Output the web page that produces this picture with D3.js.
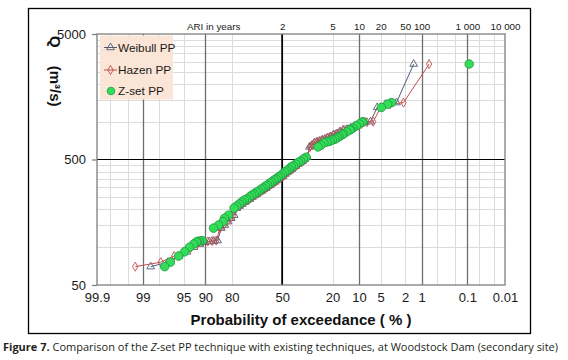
<!DOCTYPE html>
<html><head><meta charset="utf-8">
<script src="https://cdn.jsdelivr.net/npm/d3@7"></script>
<style>
html,body{margin:0;padding:0;background:#fff;}
svg{display:block;font-family:"Liberation Sans",Arial,sans-serif;}
</style></head>
<body>
<svg id="c" width="568" height="360"></svg>
<script>
// ---------- DATA ----------
// Ranked annual peak flows Q (m³/s), largest first
const qValues = [2880,1420,1380,1300,1000,990,960,926,890,870,860,830,800,785,760,745,725,715,700,690,680,650,630,521,505,485,475,460,444,437,418,406,397,383,369,362,350,343,331,324,313,307,296,290,280,275,266,260,251,242,238,229,221,213,205,180,170,160,150,142,113,112,111,110,106,100,92,85,76,70];
// Probability of exceedance (%) for each ranked value
const weibullP = [1.41,2.82,4.23,5.63,7.04,8.45,9.86,11.27,12.68,14.08,15.49,16.90,18.31,19.72,21.13,22.54,23.94,25.35,26.76,28.17,29.58,30.99,32.39,33.80,35.21,36.62,38.03,39.44,40.85,42.25,43.66,45.07,46.48,47.89,49.30,50.70,52.11,53.52,54.93,56.34,57.75,59.15,60.56,61.97,63.38,64.79,66.20,67.61,69.01,70.42,71.83,73.24,74.65,76.06,77.46,78.87,80.28,81.69,83.10,84.51,85.92,87.32,88.73,90.14,91.55,92.96,94.37,95.77,97.18,98.59];
const hazenP = [0.71,2.14,3.57,5.00,6.43,7.86,9.29,10.71,12.14,13.57,15.00,16.43,17.86,19.29,20.71,22.14,23.57,25.00,26.43,27.86,29.29,30.71,32.14,33.57,35.00,36.43,37.86,39.29,40.71,42.14,43.57,45.00,46.43,47.86,49.29,50.71,52.14,53.57,55.00,56.43,57.86,59.29,60.71,62.14,63.57,65.00,66.43,67.86,69.29,70.71,72.14,73.57,75.00,76.43,77.86,79.29,80.71,82.14,83.57,85.00,86.43,87.86,89.29,90.71,92.14,93.57,95.00,96.43,97.86,99.29];
const zsetP = [0.09,3.39,3.91,4.89,8.85,9.08,9.87,10.8,11.9,12.6,12.9,14.1,15.3,15.9,17.1,17.9,18.9,20.1,21.3,22.7,24.3,25.9,27.5,34.5,36.2,37.8,39.4,41.0,42.5,44.0,45.5,47.0,48.4,49.8,51.2,52.6,54.0,55.4,56.8,58.2,59.6,61.0,62.4,63.8,65.2,66.6,68.0,69.4,70.8,72.2,73.6,75.0,76.3,77.6,78.9,81.5,83.2,83.8,85.6,87.4,90.9,91.6,92.1,92.4,93.0,93.9,94.8,95.8,96.9,97.5];
const seriesNames = ["Weibull PP","Hazen PP","Z-set PP"];

// Axis tick labels
const xTickP = [99.9,99,95,90,80,50,20,10,5,2,1,0.1,0.01];
const xTickLabels = ["99.9","99","95","90","80","50","20","10","5","2","1","0.1","0.01"];
const ariP = [50,20,10,5,2,1,0.1,0.01];
const ariLabels = ["2","5","10","20","50","100","1 000","10 000"];
const yTicks = [50,500,5000];
const yTickLabels = ["50","500","5000"];
const gridMinorP = [99.8,99.5,98,95,80,20,5,2,0.5,0.2,0.05,0.02];
const gridMajorP = [99,90,10,1,0.1];
const gridMinorQ = [100,150,200,250,300,350,400,450,1000,1500,2000,2500,3000,3500,4000,4500];

// ---------- helpers ----------
function probit(p){
  const a=[-3.969683028665376e+01,2.209460984245205e+02,-2.759285104469687e+02,1.383577518672690e+02,-3.066479806614716e+01,2.506628277459239e+00];
  const b=[-5.447609879822406e+01,1.615858368580409e+02,-1.556989798598866e+02,6.680131188771972e+01,-1.328068155288572e+01];
  const c=[-7.784894002430293e-03,-3.223964580411365e-01,-2.400758277161838e+00,-2.549732539343734e+00,4.374664141464968e+00,2.938163982698783e+00];
  const d=[7.784695709041462e-03,3.224671290700398e-01,2.445134137142996e+00,3.754408661907416e+00];
  const pl=0.02425, ph=1-pl; let q,r;
  if(p<pl){q=Math.sqrt(-2*Math.log(p));return (((((c[0]*q+c[1])*q+c[2])*q+c[3])*q+c[4])*q+c[5])/((((d[0]*q+d[1])*q+d[2])*q+d[3])*q+1);}
  if(p<=ph){q=p-0.5;r=q*q;return (((((a[0]*r+a[1])*r+a[2])*r+a[3])*r+a[4])*r+a[5])*q/(((((b[0]*r+b[1])*r+b[2])*r+b[3])*r+b[4])*r+1);}
  q=Math.sqrt(-2*Math.log(1-p));return -(((((c[0]*q+c[1])*q+c[2])*q+c[3])*q+c[4])*q+c[5])/((((d[0]*q+d[1])*q+d[2])*q+d[3])*q+1);
}
const zOf = pExc => probit(1 - pExc/100);

// ---------- layout ----------
const svg = d3.select("#c");
const L = 97, R = 505, T = 34, B = 285;
const xz = d3.scaleLinear().domain([zOf(99.9), zOf(0.01)]).range([L, R]);
const xp = p => xz(zOf(p));
const y = d3.scaleLog().domain([50, 5000]).range([B, T]);

// outer frame
svg.append("rect").attr("x",28.5).attr("y",8.5).attr("width",502).attr("height",325)
  .attr("fill","none").attr("stroke","#000").attr("stroke-width",1.3);

// gridlines
const g = svg.append("g");
g.selectAll("line.hm").data(gridMinorQ).join("line")
  .attr("x1",L).attr("x2",R).attr("y1",d=>Math.round(y(d))+0.5).attr("y2",d=>Math.round(y(d))+0.5)
  .attr("stroke","#dcdcdc").attr("stroke-width",1);
g.selectAll("line.vm").data(gridMinorP).join("line")
  .attr("y1",T).attr("y2",B).attr("x1",d=>Math.round(xp(d))+0.5).attr("x2",d=>Math.round(xp(d))+0.5)
  .attr("stroke","#dcdcdc").attr("stroke-width",1);
g.selectAll("line.vM").data(gridMajorP).join("line")
  .attr("y1",T).attr("y2",B).attr("x1",d=>Math.round(xp(d))+0.5).attr("x2",d=>Math.round(xp(d))+0.5)
  .attr("stroke","#6e6e6e").attr("stroke-width",1.3);
// black reference lines at 50 % and 500 m³/s
g.append("line").attr("x1",L).attr("x2",R).attr("y1",y(500)).attr("y2",y(500)).attr("stroke","#000").attr("stroke-width",1.2);
g.append("line").attr("y1",T).attr("y2",B).attr("x1",xp(50)).attr("x2",xp(50)).attr("stroke","#000").attr("stroke-width",1.8);
// plot border
g.append("rect").attr("x",L).attr("y",T).attr("width",R-L).attr("height",B-T)
  .attr("fill","none").attr("stroke","#7f7f7f").attr("stroke-width",1.3);

// ---------- axes ----------
const fmtX = d => xTickLabels[xTickP.findIndex(p => Math.abs(zOf(p)-d) < 1e-9)];
const xAxis = d3.axisBottom(xz).tickValues(xTickP.map(zOf)).tickFormat(fmtX).tickSize(0).tickPadding(0);
const gx = svg.append("g").attr("transform",`translate(0,${B+8})`).call(xAxis);
gx.select(".domain").remove();
gx.selectAll("text").attr("font-size",13).attr("font-family","Liberation Sans, Arial, sans-serif").attr("fill","#1a1a1a").attr("dy","0.71em");

const fmtA = d => ariLabels[ariP.findIndex(p => Math.abs(zOf(p)-d) < 1e-9)];
const aAxis = d3.axisTop(xz).tickValues(ariP.map(zOf)).tickFormat(fmtA).tickSize(0).tickPadding(0);
const ga = svg.append("g").attr("transform",`translate(0,${T-4.5})`).call(aAxis);
ga.select(".domain").remove();
ga.selectAll("text").attr("font-size",9.8).attr("font-family","Liberation Sans, Arial, sans-serif").attr("fill","#1a1a1a").attr("dy","0");
svg.append("text").attr("x",187).attr("y",T-4.5).attr("font-size",9.8).attr("fill","#1a1a1a").text("ARI  in years");

const yAxis = d3.axisLeft(y).tickValues(yTicks).tickFormat((d,i)=>yTickLabels[i]).tickSize(5).tickPadding(6);
const gy = svg.append("g").attr("transform",`translate(${L},0)`).call(yAxis);
gy.select(".domain").remove();
gy.selectAll("line").attr("stroke","#7f7f7f").attr("stroke-width",1.3);
gy.selectAll("text").attr("font-size",13).attr("font-family","Liberation Sans, Arial, sans-serif").attr("fill","#1a1a1a");

// titles
svg.append("text").attr("x",301).attr("y",324.5).attr("text-anchor","middle")
  .attr("font-size",15).attr("font-weight","bold").attr("fill","#111").text("Probability of exceedance ( % )");
const yt = svg.append("text").attr("transform","translate(50,36) rotate(90)")
  .attr("font-size",15).attr("font-weight","bold").attr("fill","#111");
yt.append("tspan").text("Q");
yt.append("tspan").attr("dx",18).text("(m³/s)");

// ---------- series ----------
const wData = qValues.map((q,i)=>({p:weibullP[i], q}));
const hData = qValues.map((q,i)=>({p:hazenP[i], q}));
const zData = qValues.map((q,i)=>({p:zsetP[i], q}));
const line = d3.line().x(d=>xp(d.p)).y(d=>y(d.q));
const wCol = "#4f5b73", hCol = "#c0504d";
const tri = d3.symbol().type(d3.symbolTriangle).size(26);
const dia = d3.symbol().type(d3.symbolDiamond).size(24);

svg.append("path").datum(wData).attr("d",line).attr("fill","none").attr("stroke",wCol).attr("stroke-width",1);
svg.selectAll("path.w").data(wData).join("path").attr("class","w")
  .attr("transform",d=>`translate(${xp(d.p)},${y(d.q)})`).attr("d",tri)
  .attr("fill","none").attr("stroke",wCol).attr("stroke-width",0.9);

svg.append("path").datum(hData).attr("d",line).attr("fill","none").attr("stroke",hCol).attr("stroke-width",1);
svg.selectAll("path.h").data(hData).join("path").attr("class","h")
  .attr("transform",d=>`translate(${xp(d.p)},${y(d.q)})`).attr("d",dia)
  .attr("fill","none").attr("stroke",hCol).attr("stroke-width",0.9);

svg.selectAll("circle.z").data(zData).join("circle").attr("class","z")
  .attr("cx",d=>xp(d.p)).attr("cy",d=>y(d.q)).attr("r",4.3)
  .attr("fill","#33dd5a").attr("stroke","#1d9a40").attr("stroke-width",0.8);

// ---------- legend ----------
const lg = svg.append("g");
lg.append("rect").attr("x",100).attr("y",35.5).attr("width",73).attr("height",64).attr("fill","#fbe5d6");
const ly = [47.5, 70, 91];
lg.append("line").attr("x1",104).attr("x2",117).attr("y1",ly[0]).attr("y2",ly[0]).attr("stroke",wCol);
lg.append("path").attr("transform",`translate(110.5,${ly[0]})`).attr("d",tri).attr("fill","none").attr("stroke",wCol).attr("stroke-width",0.9);
lg.append("line").attr("x1",104).attr("x2",117).attr("y1",ly[1]).attr("y2",ly[1]).attr("stroke",hCol);
lg.append("path").attr("transform",`translate(110.5,${ly[1]})`).attr("d",dia).attr("fill","none").attr("stroke",hCol).attr("stroke-width",0.9);
lg.append("circle").attr("cx",111).attr("cy",ly[2]).attr("r",3.8).attr("fill","#33dd5a").attr("stroke","#1d9a40").attr("stroke-width",0.8);
lg.selectAll("text.lt").data(seriesNames).join("text").attr("class","lt")
  .attr("x",118).attr("y",(d,i)=>ly[i]+4).attr("font-size",11.8).attr("fill","#1a1a1a").text(d=>d);

// ---------- caption ----------
const cap = svg.append("text").attr("x",3).attr("y",351).attr("font-family","'Open Sans','Noto Sans',sans-serif").attr("font-size",11).attr("fill","#231f20");
cap.append("tspan").attr("font-weight","bold").text("Figure 7.");
cap.append("tspan").text(" Comparison of the ");
cap.append("tspan").attr("font-style","italic").text("Z");
cap.append("tspan").text("-set PP technique with existing techniques, at Woodstock Dam (secondary site)");
const w = cap.node().getComputedTextLength();
cap.attr("font-size", 11*556/w);
</script>
</body></html>
